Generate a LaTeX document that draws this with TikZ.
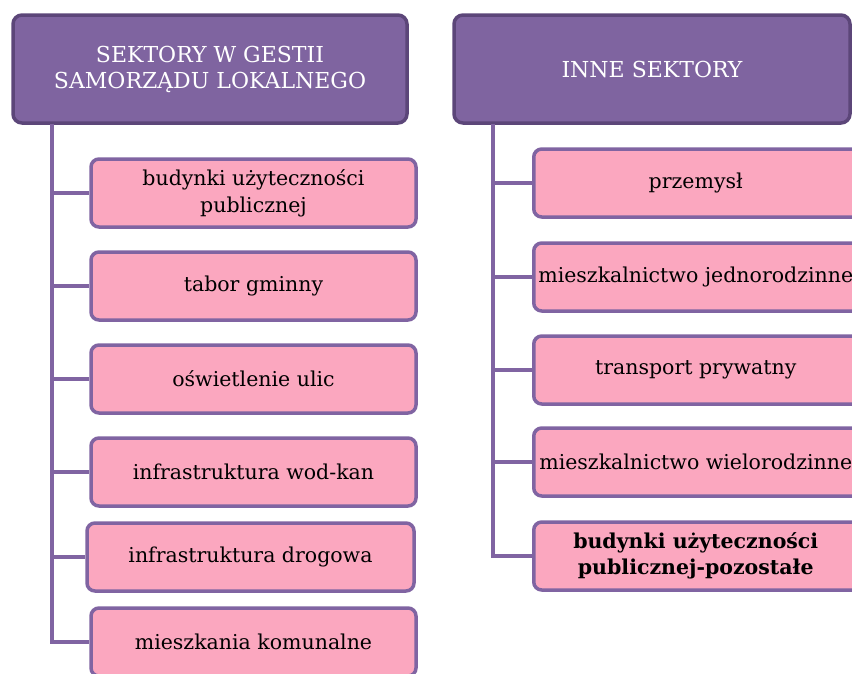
\documentclass[tikz,border=0pt]{standalone}
\usepackage{fontspec}
\setmainfont{DejaVu Serif}
\definecolor{hdrfill}{HTML}{7F64A0}
\definecolor{hdrline}{HTML}{5C4679}
\definecolor{boxfill}{HTML}{FBA7BF}
\definecolor{boxline}{HTML}{8064A2}
\newcommand{\rtxt}[1]{\makebox[314pt]{#1}\hspace*{16pt}}
\tikzset{
  hdr/.style={draw=hdrline, fill=hdrfill, line width=3.5pt, rounded corners=9pt,
    minimum height=108pt, text=white, align=center,
    font=\fontsize{22}{26}\selectfont},
  itembox/.style={draw=boxline, fill=boxfill, line width=3.5pt, rounded corners=8pt,
    minimum height=68pt, minimum width=325pt, align=center, text=black,
    font=\fontsize{20.5}{27}\selectfont},
  rbox/.style={itembox, minimum width=340pt, anchor=west},
  conn/.style={draw=boxline, line width=3.5pt}
}
\begin{document}
\begin{tikzpicture}[x=1pt,y=-1pt]
\useasboundingbox (0,0) rectangle (852,673);
\clip (0,0) rectangle (852,673);
% headers
\node[hdr, minimum width=394pt] (lh) at (210,69) {SEKTORY W GESTII\\SAMORZĄDU LOKALNEGO};
\node[hdr, minimum width=396pt] (rh) at (652,69) {INNE SEKTORY};
% left items
\node[itembox] (l1) at (253.5,193) {budynki użyteczności\\publicznej};
\node[itembox] (l2) at (253.5,286) {tabor gminny};
\node[itembox] (l3) at (253.5,379) {oświetlenie ulic};
\node[itembox] (l4) at (253.5,472) {infrastruktura wod-kan};
\node[itembox, minimum width=327pt] (l5) at (250.5,557) {infrastruktura drogowa};
\node[itembox] (l6) at (253.5,642) {mieszkania komunalne};
% right items (box runs past the right edge)
\node[rbox] (r1) at (532,183) {\rtxt{przemysł}};
\node[rbox] (r2) at (532,277) {\rtxt{mieszkalnictwo jednorodzinne}};
\node[rbox] (r3) at (532,370) {\rtxt{transport prywatny}};
\node[rbox] (r4) at (532,462) {\rtxt{mieszkalnictwo wielorodzinne}};
\node[rbox, font=\fontsize{20.5}{26}\selectfont\bfseries] (r5) at (532,556) {\parbox{314pt}{\centering budynki użyteczności\\publicznej-pozostałe}\hspace*{16pt}};
% connectors
\coordinate (lt) at (52,124);
\coordinate (rt) at (493,124);
\draw[conn] (lt) |- (l6.west);
\foreach \n in {l1,l2,l3,l4,l5} \draw[conn] (l6.west -| lt) |- (\n.west);
\draw[conn] (rt) |- (r5.west);
\foreach \n in {r1,r2,r3,r4} \draw[conn] (r5.west -| rt) |- (\n.west);
\end{tikzpicture}
\end{document}
